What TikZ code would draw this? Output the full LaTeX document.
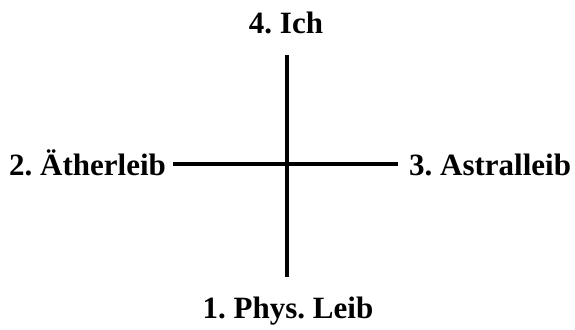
\documentclass[tikz,border=0pt]{standalone}
\usepackage{fontspec}
\setmainfont{Liberation Serif}
\frenchspacing
\begin{document}
\begin{tikzpicture}[x=1bp,y=1bp,
  lbl/.style={font=\fontsize{31bp}{36bp}\selectfont\bfseries, inner sep=0pt},
  axis/.style={line width=4bp, black}]
\useasboundingbox (0,0) rectangle (575,329);
\node[lbl, anchor=base] (ich) at (286,296) {4. Ich};
\node[lbl, anchor=base west] (aether) at (9,154) {2. Ätherleib};
\node[lbl, anchor=base west] (astral) at (409,154) {3. Astralleib};
\node[lbl, anchor=base] (phys) at (288,11) {1. Phys. Leib};
\coordinate (top) at (286.7,274);
\coordinate (bottom) at (286.7,52);
\coordinate (left) at (173,165);
\coordinate (right) at (398,165);
\draw[axis] (top) -- (bottom);
\draw[axis] (left) -- (right);
\end{tikzpicture}
\end{document}
